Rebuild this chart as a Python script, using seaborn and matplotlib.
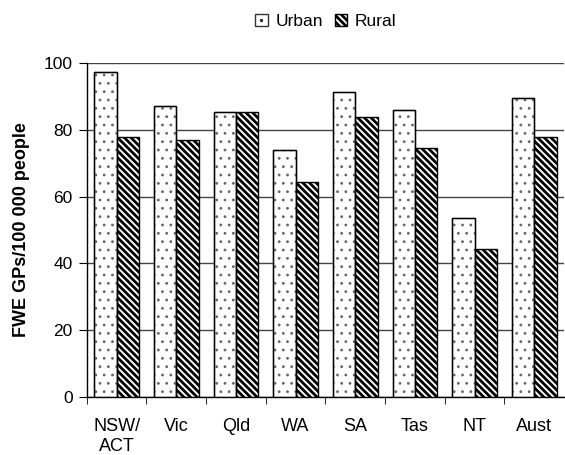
import pandas as pd
import matplotlib
matplotlib.use("Agg")
import matplotlib.pyplot as plt
import seaborn as sns
from matplotlib.patches import Patch
from matplotlib.lines import Line2D

# Values
regions = ["NSW/\nACT", "Vic", "Qld", "WA", "SA", "Tas", "NT", "Aust"]
urban = [97.2, 87.2, 85.3, 74.0, 91.4, 86.0, 53.6, 89.4]
rural = [77.7, 76.9, 85.3, 64.3, 83.7, 74.6, 44.2, 77.9]

df = pd.DataFrame({"Region": regions * 2,
                   "Area": ["Urban"] * len(regions) + ["Rural"] * len(regions),
                   "GPs": urban + rural})

sns.set_style("white")
plt.rcParams["font.family"] = ["Liberation Sans", "DejaVu Sans"]
plt.rcParams["hatch.linewidth"] = 2.0
plt.rcParams["text.color"] = "black"
plt.rcParams["xtick.color"] = "black"
plt.rcParams["ytick.color"] = "black"
plt.rcParams["axes.labelcolor"] = "black"

DOTS = ".."
STRIPES = "\\\\\\\\\\"

fig = plt.figure(figsize=(5.65, 4.55), dpi=100)
ax = fig.add_axes([0.1535, 0.1275, 0.845, 0.734])

sns.barplot(data=df, x="Region", y="GPs", hue="Area", order=regions,
            hue_order=["Urban", "Rural"], palette=["white", "white"],
            edgecolor="black", linewidth=1.0, width=0.75, gap=0,
            errorbar=None, legend=False, ax=ax, zorder=3)

# hatches: sparse grey dots for urban, dense diagonal stripes for rural
n = len(regions)
for i, bar in enumerate(ax.patches):
    if i < n:
        bar.set_hatch(DOTS)
        bar.set_edgecolor("#666666")
        if hasattr(bar, "set_hatch_linewidth"):
            bar.set_hatch_linewidth(0.8)
    else:
        bar.set_hatch(STRIPES)
        bar.set_edgecolor("black")

# black outline drawn on top of the grey-hatched urban bars
for bar in ax.patches[:n]:
    ax.add_patch(plt.Rectangle(bar.get_xy(), bar.get_width(), bar.get_height(),
                               fill=False, edgecolor="black", linewidth=1.0,
                               zorder=4))

ax.set_ylim(0, 100)
ax.set_xlim(-0.5, n - 0.5)
ax.set_yticks([0, 20, 40, 60, 80, 100])
ax.yaxis.grid(True, color="#444444", linewidth=1.0, zorder=0)
ax.set_axisbelow(True)
for s in ["top", "right"]:
    ax.spines[s].set_visible(False)
for s in ["left", "bottom"]:
    ax.spines[s].set_color("black")
    ax.spines[s].set_linewidth(1.0)

ax.tick_params(axis="y", which="major", direction="out", length=6,
               color="black", labelsize=12.5, left=True, pad=4)
ax.tick_params(axis="x", which="major", length=0, labelsize=13, pad=15)
for lab in ax.get_xticklabels():
    lab.set_linespacing(1.25)
ax.set_xticks([i + 0.5 for i in range(-1, n - 1)], minor=True)
ax.tick_params(axis="x", which="minor", direction="out", length=5,
               color="black", bottom=True)
ax.set_xlabel("")
ax.set_ylabel("FWE GPs/100 000 people", fontsize=13, fontweight="bold",
              labelpad=10)

# legend with small square swatches (urban: box with a single centre dot)
urban_handle = (Patch(facecolor="white", edgecolor="#333333"),
                Line2D([], [], marker=".", color="#333333", markersize=3,
                       linestyle="None"))
rural_handle = Patch(facecolor="white", edgecolor="black", hatch=STRIPES)
leg = fig.legend(handles=[urban_handle, rural_handle], labels=["Urban", "Rural"],
                 loc="center", bbox_to_anchor=(0.577, 0.953),
                 ncol=2, frameon=False, fontsize=12.5, handlelength=0.7,
                 handleheight=0.7, handletextpad=0.45, columnspacing=0.7)

fig.savefig("out.png", dpi=100)
